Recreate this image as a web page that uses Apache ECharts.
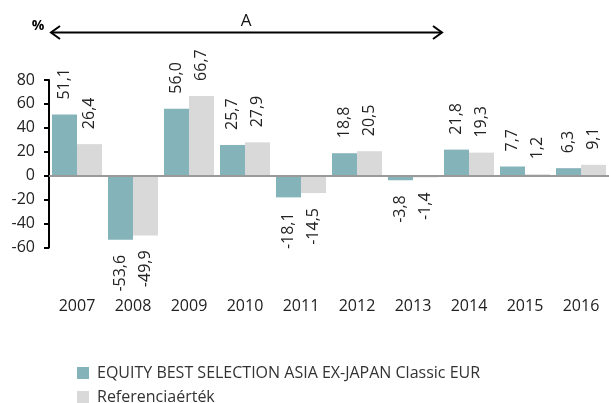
<!DOCTYPE html>
<html>
<head>
<meta charset="utf-8">
<script src="https://cdn.jsdelivr.net/npm/echarts@6/dist/echarts.min.js"></script>
<style>html,body{margin:0;padding:0;background:#fff;}#c{width:609px;height:403px;}</style>
</head>
<body>
<div id="c"></div>
<script>
var categories = ['2007','2008','2009','2010','2011','2012','2013','2014','2015','2016'];
var fundValues = [51.1, -53.6, 56.0, 25.7, -18.1, 18.8, -3.8, 21.8, 7.7, 6.3];
var benchValues = [26.4, -49.9, 66.7, 27.9, -14.5, 20.5, -1.4, 19.3, 1.2, 9.1];
var fundName = 'EQUITY BEST SELECTION ASIA EX-JAPAN Classic EUR';
var benchName = 'Referenciaérték';
var yTicks = {min: -60, max: 80, interval: 20};

var FONT = 'Open Sans';
function fmt(v){ return v.toFixed(1).replace('.', ','); }
function items(vals){
  return vals.map(function(v){
    return {
      value: v,
      label: v >= 0 ? {position: 'top', align: 'left'} : {position: 'bottom', align: 'right'}
    };
  });
}
var labelCfg = {
  show: true, rotate: 90, verticalAlign: 'middle', distance: 15,
  fontFamily: FONT, fontSize: 16, color: '#222',
  formatter: function(p){ return fmt(p.value); }
};
function legendFor(name, top){
  return {
    orient: 'horizontal', left: 72, top: top,
    itemWidth: 12, itemHeight: 12,
    icon: 'rect',
    textStyle: {fontFamily: FONT, fontSize: 16, color: '#333', padding: [0,0,0,3]},
    data: [name]
  };
}

var chart = echarts.init(document.getElementById('c'), null, {renderer: 'canvas'});
chart.setOption({
  animation: false,
  grid: {left: 49, top: 80, width: 563, height: 167.5, containLabel: false},
  legend: [legendFor(fundName, 360), legendFor(benchName, 384)],
  xAxis: {
    type: 'category', data: categories,
    axisLine: {show: false, onZero: false}, axisTick: {show: false},
    axisLabel: {margin: 51, fontFamily: FONT, fontSize: 16, color: '#222'}
  },
  yAxis: {
    type: 'value', min: yTicks.min, max: yTicks.max, interval: yTicks.interval,
    axisLine: {show: true, lineStyle: {color: '#000', width: 2}},
    axisTick: {show: true, length: 5, lineStyle: {color: '#000', width: 2}},
    splitLine: {show: false},
    axisLabel: {margin: 14, fontFamily: FONT, fontSize: 16, color: '#222'}
  },
  series: [
    {
      name: fundName, type: 'bar', data: items(fundValues),
      barWidth: 25, barGap: '0%',
      itemStyle: {color: '#84B3B9'},
      label: labelCfg,
      markLine: {
        silent: true, symbol: 'none', label: {show: false},
        lineStyle: {color: '#9a9a9a', width: 2, type: 'solid'},
        data: [{yAxis: 0}]
      }
    },
    {
      name: benchName, type: 'bar', data: items(benchValues),
      barWidth: 25,
      itemStyle: {color: '#D9D9D9'},
      label: labelCfg
    }
  ],
  graphic: [
    {type: 'line', shape: {x1: 51, y1: 32.5, x2: 442, y2: 32.5}, style: {stroke: '#000', lineWidth: 2}},
    {type: 'polyline', shape: {points: [[60, 26], [51, 32.5], [60, 39]]}, style: {stroke: '#000', lineWidth: 2, fill: null}},
    {type: 'polyline', shape: {points: [[433, 26], [442, 32.5], [433, 39]]}, style: {stroke: '#000', lineWidth: 2, fill: null}},
    {type: 'text', x: 246, y: 21, style: {text: 'A', fontFamily: FONT, fontSize: 17, fill: '#111', align: 'center', verticalAlign: 'middle'}},
    {type: 'text', x: 38, y: 26, style: {text: '%', fontFamily: FONT, fontSize: 14, fontWeight: 'bold', fill: '#000', align: 'center', verticalAlign: 'middle'}}
  ]
});
</script>
</body>
</html>
